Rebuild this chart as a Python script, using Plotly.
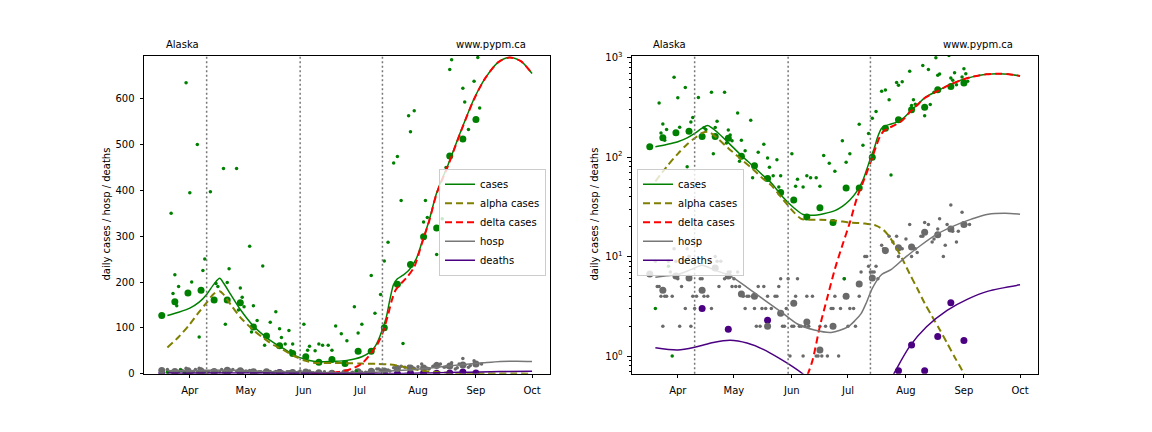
import plotly.graph_objects as go

YEAR = "2021"


def dts(lst):
    return [f"{YEAR}-{s}" for s in lst]


# ---------------- weekly averages ----------------
week_dates = ["03-17", "03-24", "03-31", "04-07", "04-14", "04-21", "04-28", "05-05", "05-12",
              "05-19", "05-26", "06-02", "06-09", "06-16", "06-23", "06-30", "07-07", "07-14",
              "07-21", "07-28", "08-04", "08-11", "08-18", "08-25", "09-01"]
cases_week = [127, 157, 176, 182, 161, 161, 155, 102, 82, 61, 44, 37, 25, 31, 22, 49, 49, 100,
              195, 238, 299, 318, 475, 512, 555]
hosp_week = [6.7, 4.6, 6.4, 6.1, 4.6, 7.7, 6.4, 4.2, 4.0, 2.0, 2.7, 3.4, 2.2, 1.15, 2.0, 4.0,
             5.3, 6.1, 11.5, 12.3, 12.5, 17.6, 16.6, 19.0, 21.0]
deaths_week = [0, 0, 0, 0, 3.0, 0, 1.86, 0, 0, 2.29, 0, 0, 0, 0, 0, 0, 0, 0, 0, 0.71, 1.29,
               0.71, 1.57, 3.43, 1.43]

# ---------------- daily reported cases ----------------
cases_day_dates = ["03-20", "03-22", "03-23", "03-24", "03-25", "03-26", "03-27", "03-29",
                   "03-30", "04-01", "04-02", "04-05", "04-06", "04-08", "04-09", "04-12",
                   "04-15", "04-16", "04-19", "04-20", "04-21", "04-22", "04-26", "04-27",
                   "04-28", "04-29", "04-30", "05-03", "05-04", "05-05", "05-07", "05-10",
                   "05-11", "05-14", "05-17", "05-19", "05-20", "05-22", "05-24", "05-25",
                   "05-26", "06-01", "06-03", "06-04", "06-07", "06-09", "06-11", "06-14",
                   "06-16", "06-18", "06-21", "06-24", "06-28", "06-29", "06-30", "07-02",
                   "07-07", "07-09", "07-12", "07-14", "07-16", "07-19", "07-21", "07-23",
                   "07-24", "07-27", "07-28", "07-30", "08-03", "08-04", "08-05", "08-06",
                   "08-10", "08-11", "08-13", "08-14", "08-16", "08-17", "08-18", "08-19",
                   "08-24", "08-25", "08-26", "08-27", "08-28", "08-31", "09-01", "09-02",
                   "09-03"]
cases_day = [3, 350, 175, 216, 148, 190, 8, 1,
             635, 395, 200, 500, 80, 225, 250, 397,
             197, 190, 448, 108, 199, 229, 448, 139,
             187, 167, 146, 278, 91, 148, 116, 235,
             62, 112, 135, 98, 79, 65, 94, 50,
             65, 108, 51, 60, 50, 65, 62, 62,
             51, 104, 87, 72, 146, 6, 89, 108,
             214, 132, 173, 246, 287, 460, 474, 378,
             66, 563, 528, 574, 732, 331, 378, 341,
             832, 260, 760, 338, 450, 1000, 664, 685,
             1050, 623, 593, 705, 533, 638, 772, 690,
             580]

# ---------------- daily hospitalizations ----------------
hosp_day_dates = ["03-20", "03-21", "03-22", "03-23", "03-24", "03-25", "03-26", "03-27",
                  "03-28", "03-29", "03-30", "03-31", "04-01", "04-02", "04-03", "04-04",
                  "04-05", "04-06", "04-07", "04-08", "04-09", "04-10", "04-11", "04-13",
                  "04-14", "04-15", "04-17", "04-18", "04-19", "04-21", "04-22", "04-23",
                  "04-24", "04-26", "04-28", "04-29", "04-30", "05-01", "05-02", "05-03",
                  "05-04", "05-06", "05-07", "05-08", "05-09", "05-11", "05-12", "05-13",
                  "05-14", "05-15", "05-16", "05-17", "05-18", "05-19", "05-21", "05-23",
                  "05-24", "05-25", "05-26", "05-27", "05-28", "05-29", "05-30", "05-31",
                  "06-01", "06-02", "06-03", "06-04", "06-05", "06-06", "06-07", "06-08",
                  "06-09", "06-10", "06-12", "06-14", "06-15", "06-16", "06-17", "06-19",
                  "06-20", "06-22", "06-23", "06-24", "06-26", "06-27", "06-29", "07-01",
                  "07-02", "07-04", "07-05", "07-07", "07-08", "07-10", "07-11", "07-12",
                  "07-13", "07-14", "07-15", "07-16", "07-17", "07-19", "07-20", "07-21",
                  "07-23", "07-25", "07-27", "07-28", "07-30", "08-01", "08-03", "08-04",
                  "08-06", "08-07", "08-09", "08-10", "08-11", "08-13", "08-15", "08-16",
                  "08-18", "08-19", "08-21", "08-22", "08-23", "08-25", "08-26", "08-28",
                  "08-29", "08-31", "09-02", "09-04"]
hosp_day = [9, 5, 5, 4, 2, 4, 4, 9,
            7, 4, 12, 9, 6, 2, 5, 9,
            3, 12, 10, 2, 4, 3, 4, 6,
            6, 4, 4, 9, 3, 10, 9, 5,
            9, 6, 7, 7, 5, 6, 5, 7,
            5, 4, 3, 4, 4, 4, 3, 2,
            5, 2, 3, 5, 3, 4, 3, 4,
            4, 5, 6, 2, 2, 3, 6, 1,
            2, 2, 4, 6, 2, 2, 1, 2,
            4, 2, 4, 1, 1, 2, 1, 2,
            1, 3, 3, 4, 1, 3, 6, 2,
            3, 3, 2, 4, 7, 10, 10, 8,
            7, 7, 7, 8, 6, 13, 12, 11,
            16, 14, 16, 10, 12, 15, 21, 10,
            12, 11, 16, 16, 22, 21, 14, 15,
            19, 24, 10, 13, 21, 33, 18, 14,
            18, 28, 21, 21]

# ---------------- model curves ----------------
cases_fit_dates = ["03-20", "03-26", "04-01", "04-06", "04-10", "04-14", "04-17", "04-19",
                   "04-23", "04-28", "05-05", "05-11", "05-16", "05-21", "05-27", "06-02",
                   "06-07", "06-12", "06-18", "06-24", "06-28", "07-02", "07-06", "07-09",
                   "07-11", "07-13", "07-15", "07-17", "07-19", "07-21", "07-24", "07-27",
                   "07-31", "08-03", "08-07", "08-11", "08-17", "08-24", "08-31", "09-06",
                   "09-13", "09-19", "09-25", "10-01"]
cases_fit = [127, 134, 143, 156, 173, 196, 208, 198,
             172, 140, 104, 82, 67, 55, 40, 31,
             26.5, 26, 27, 29, 32, 37, 46, 59,
             75, 97, 122, 162, 195, 207, 215, 225,
             250, 285, 335, 395, 455, 530, 600, 645,
             680, 690, 682, 655]

alpha_fit_dates = ["03-20", "03-26", "04-01", "04-06", "04-10", "04-14", "04-17", "04-19",
                   "04-23", "04-28", "05-05", "05-11", "05-16", "05-21", "05-27", "06-02",
                   "06-06", "06-10", "06-16", "06-24", "07-02", "07-10", "07-16", "07-20",
                   "07-23", "07-26", "07-30", "08-03", "08-07", "08-11", "08-15", "08-19",
                   "08-23", "08-27", "08-31", "09-06", "09-13", "09-20", "10-01"]
alpha_fit = [57, 80, 108, 135, 155, 175, 180, 173,
             150, 123, 95, 76, 62, 52, 38, 28,
             24, 23.5, 23.5, 23, 22, 21.5, 20.5, 18.5,
             16, 13, 9.5, 6.7, 4.8, 3.4, 2.5, 1.85,
             1.35, 0.98, 0.72, 0.44, 0.25, 0.14, 0.06]

delta_fit_dates = ["06-05", "06-09", "06-12", "06-16", "06-20", "06-24", "06-28", "07-02",
                   "07-06", "07-10", "07-13", "07-16", "07-18", "07-20", "07-23", "07-26",
                   "07-30", "08-03", "08-07", "08-11", "08-17", "08-24", "08-31", "09-06",
                   "09-13", "09-19", "09-25", "10-01"]
delta_fit = [0.4, 0.62, 0.9, 2.0, 3.9, 7.5, 13, 22,
             40, 62, 88, 128, 160, 182, 197, 210,
             233, 283, 333, 393, 453, 529, 599, 645,
             680, 690, 682, 655]

hosp_fit_dates = ["03-20", "03-26", "04-01", "04-08", "04-14", "04-20", "04-29", "05-08",
                  "05-17", "05-26", "06-04", "06-13", "06-22", "07-01", "07-05", "07-08",
                  "07-11", "07-14", "07-19", "07-24", "07-31", "08-09", "08-18", "08-27",
                  "09-05", "09-14", "09-23", "10-01"]
hosp_fit = [6.2, 6.4, 6.6, 7.4, 8.2, 7.4, 6.4, 4.9,
            3.7, 2.8, 2.1, 1.83, 1.73, 1.97, 2.3, 2.67,
            3.5, 4.8, 6.6, 7.4, 9.6, 13, 17, 20.5,
            23.8, 26.7, 27.3, 26.7]

deaths_fit_dates = ["03-20", "04-01", "04-11", "04-20", "04-29", "05-08", "05-17", "05-26",
                    "06-02", "06-07", "06-15", "06-25", "07-05", "07-15", "07-22", "07-26",
                    "08-03", "08-12", "08-23", "09-03", "09-14", "10-01"]
deaths_fit = [1.21, 1.15, 1.24, 1.37, 1.44, 1.35, 1.16, 0.93,
              0.77, 0.66, 0.5, 0.4, 0.36, 0.38, 0.5, 0.69,
              1.25, 1.97, 2.88, 3.74, 4.5, 5.2]

# vertical markers
vlines = ["04-10", "05-30", "07-13"]

GREEN = "#008000"
OLIVE = "#808000"
RED = "#ff0000"
GREY_DOT = "#6a6a6a"
GREY_LINE = "#777777"
INDIGO = "#4b0082"
FONT = "DejaVu Sans"

fig = go.Figure()

for i, (xa, ya) in enumerate([("x", "y"), ("x2", "y2")]):
    leg = "legend" if i == 0 else "legend2"
    fig.add_trace(go.Scatter(x=dts(week_dates), y=deaths_week, mode="markers", xaxis=xa, yaxis=ya,
                             marker=dict(color=INDIGO, size=7), showlegend=False))
    fig.add_trace(go.Scatter(x=dts(hosp_day_dates), y=hosp_day, mode="markers", xaxis=xa, yaxis=ya,
                             marker=dict(color=GREY_DOT, size=3.5), showlegend=False))
    fig.add_trace(go.Scatter(x=dts(week_dates), y=hosp_week, mode="markers", xaxis=xa, yaxis=ya,
                             marker=dict(color=GREY_DOT, size=7), showlegend=False))
    fig.add_trace(go.Scatter(x=dts(cases_day_dates), y=cases_day, mode="markers", xaxis=xa, yaxis=ya,
                             marker=dict(color=GREEN, size=3.5), showlegend=False))
    fig.add_trace(go.Scatter(x=dts(week_dates), y=cases_week, mode="markers", xaxis=xa, yaxis=ya,
                             marker=dict(color=GREEN, size=7), showlegend=False))
    fig.add_trace(go.Scatter(x=dts(cases_fit_dates), y=cases_fit, mode="lines", xaxis=xa, yaxis=ya,
                             name="cases", legend=leg,
                             line=dict(color=GREEN, width=1.5, shape="spline", smoothing=0.8)))
    fig.add_trace(go.Scatter(x=dts(alpha_fit_dates), y=alpha_fit, mode="lines", xaxis=xa, yaxis=ya,
                             name="alpha cases", legend=leg,
                             line=dict(color=OLIVE, width=2, dash="7px,4px", shape="spline", smoothing=0.8)))
    fig.add_trace(go.Scatter(x=dts(delta_fit_dates), y=delta_fit, mode="lines", xaxis=xa, yaxis=ya,
                             name="delta cases", legend=leg,
                             line=dict(color=RED, width=2, dash="7px,4px", shape="spline", smoothing=0.8)))
    fig.add_trace(go.Scatter(x=dts(hosp_fit_dates), y=hosp_fit, mode="lines", xaxis=xa, yaxis=ya,
                             name="hosp", legend=leg,
                             line=dict(color=GREY_LINE, width=1.5, shape="spline", smoothing=0.8)))
    fig.add_trace(go.Scatter(x=dts(deaths_fit_dates), y=deaths_fit, mode="lines", xaxis=xa, yaxis=ya,
                             name="deaths", legend=leg,
                             line=dict(color=INDIGO, width=1.5, shape="spline", smoothing=0.8)))

shapes = []
for xr in ["x", "x2"]:
    for v in vlines:
        shapes.append(dict(type="line", xref=xr, yref=("y domain" if xr == "x" else "y2 domain"),
                           x0=f"{YEAR}-{v}", x1=f"{YEAR}-{v}", y0=0, y1=1,
                           line=dict(color="#777777", width=1.5, dash="2px,2.5px")))

xcommon = dict(type="date", range=[f"{YEAR}-03-07 12:00", f"{YEAR}-10-10 14:00"],
               tickformat="%b", dtick="M1", tick0=f"{YEAR}-04-01",
               ticks="outside", ticklen=3.5, tickwidth=1, tickcolor="black", ticklabelstandoff=4,
               showline=True, linecolor="black", linewidth=1, mirror=True,
               showgrid=False, zeroline=False, tickfont=dict(size=10, color="black", family=FONT))

ydom = [0.1243, 0.8796]

leg_common = dict(font=dict(size=10, family=FONT, color="black"), bgcolor="rgba(255,255,255,0.8)",
                  bordercolor="#cccccc", borderwidth=1, yanchor="top", tracegroupgap=0,
                  itemwidth=30)

tfont = dict(size=10, family=FONT, color="black")
annotations = [
    dict(text="Alaska", x=164 / 1152, y=1 - 41 / 432, xref="paper", yref="paper",
         xanchor="left", yanchor="middle", showarrow=False, font=tfont),
    dict(text="www.pypm.ca", x=528 / 1152, y=1 - 41 / 432, xref="paper", yref="paper",
         xanchor="right", yanchor="middle", showarrow=False, font=tfont),
    dict(text="Alaska", x=651 / 1152, y=1 - 41 / 432, xref="paper", yref="paper",
         xanchor="left", yanchor="middle", showarrow=False, font=tfont),
    dict(text="www.pypm.ca", x=1015 / 1152, y=1 - 41 / 432, xref="paper", yref="paper",
         xanchor="right", yanchor="middle", showarrow=False, font=tfont),
    dict(text="daily cases / hosp / deaths", x=107 / 1152, y=1 - 215 / 432, xref="paper", yref="paper",
         xanchor="center", yanchor="middle", textangle=-90, showarrow=False, font=tfont),
    dict(text="daily cases / hosp / deaths", x=595 / 1152, y=1 - 215 / 432, xref="paper", yref="paper",
         xanchor="center", yanchor="middle", textangle=-90, showarrow=False, font=tfont),
]

minor_vals = ([0.7, 0.8, 0.9] + [k for k in range(2, 10)] + [10 * k for k in range(2, 10)]
              + [100 * k for k in range(2, 10)])

fig.update_layout(
    width=1152, height=432, autosize=False,
    margin=dict(l=0, r=0, t=0, b=0),
    paper_bgcolor="white", plot_bgcolor="white",
    font=dict(family=FONT, size=10, color="black"),
    xaxis=dict(domain=[0.125, 0.4774], anchor="y", **xcommon),
    xaxis2=dict(domain=[0.5486, 0.9010], anchor="y2", **xcommon),
    yaxis=dict(domain=ydom, anchor="x", range=[0, 694], tickvals=[0, 100, 200, 300, 400, 500, 600],
               ticks="outside", ticklen=3.5, tickwidth=1, tickcolor="black", ticklabelstandoff=3,
               showline=True, linecolor="black", linewidth=1, mirror=True,
               showgrid=False, zeroline=False, tickfont=dict(size=10, color="black", family=FONT)),
    yaxis2=dict(domain=ydom, anchor="x2", type="log", range=[-0.177, 3.02],
                tickvals=[1, 10, 100, 1000],
                ticktext=["10<sup>0</sup>", "10<sup>1</sup>", "10<sup>2</sup>", "10<sup>3</sup>"],
                ticks="outside", ticklen=3.5, tickwidth=1, tickcolor="black", ticklabelstandoff=3,
                minor=dict(ticks="outside", ticklen=2, tickwidth=0.8, tickcolor="black",
                           tickvals=minor_vals, showgrid=False),
                showline=True, linecolor="black", linewidth=1, mirror=True,
                showgrid=False, zeroline=False, tickfont=dict(size=10, color="black", family=FONT)),
    legend=dict(x=546 / 1152, y=1 - 168 / 432, xanchor="right", **leg_common),
    legend2=dict(x=637 / 1152, y=1 - 168 / 432, xanchor="left", **leg_common),
    shapes=shapes,
    annotations=annotations,
)

fig.write_html("out.html")
